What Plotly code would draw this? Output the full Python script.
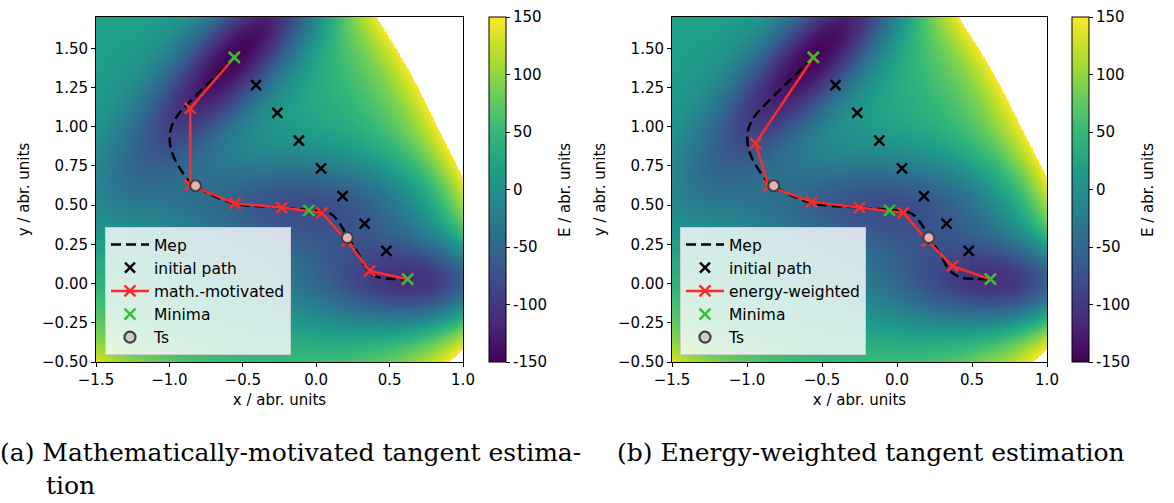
import numpy as np
import plotly.graph_objects as go

# Mueller-Brown potential parameters (surface shown in background)
MB_A = [-200.0, -100.0, -170.0, 15.0]
MB_a = [-1.0, -1.0, -6.5, 0.7]
MB_b = [0.0, 0.0, 11.0, 0.6]
MB_c = [-10.0, -10.0, -6.5, 0.7]
MB_x0 = [1.0, 0.0, -0.5, -1.0]
MB_y0 = [0.0, 0.5, 1.5, 1.0]
E_MIN, E_MAX = -150, 150

# Minimum energy path
mep_x = [-0.558, -0.655, -0.77, -0.871, -0.935, -0.986, -0.998, -0.98, -0.935, -0.871,
         -0.822, -0.731, -0.553, -0.247, -0.044, 0.096, 0.16, 0.216, 0.287, 0.35,
         0.414, 0.516, 0.623]
mep_y = [1.442, 1.351, 1.245, 1.149, 1.085, 1.0, 0.915, 0.83, 0.745, 0.66,
         0.624, 0.574, 0.51, 0.485, 0.468, 0.447, 0.383, 0.294, 0.19, 0.085,
         0.043, 0.03, 0.028]

# initial path (interior images)
init_x = [-0.410, -0.265, -0.118, 0.033, 0.180, 0.330, 0.478]
init_y = [1.266, 1.089, 0.911, 0.734, 0.557, 0.383, 0.209]

# math.-motivated tangent result
math_x = [-0.558, -0.858, -0.858, -0.553, -0.235, 0.038, 0.211, 0.364, 0.623]
math_y = [1.442, 1.117, 0.628, 0.511, 0.485, 0.451, 0.272, 0.081, 0.028]

# energy-weighted tangent result
ew_x = [-0.558, -0.943, -0.855, -0.570, -0.250, 0.042, 0.204, 0.370, 0.623]
ew_y = [1.442, 0.894, 0.621, 0.521, 0.485, 0.451, 0.272, 0.111, 0.028]

min_x = [-0.558, -0.050, 0.623]
min_y = [1.442, 0.467, 0.028]
ts_x = [-0.822, 0.212]
ts_y = [0.624, 0.293]

cb_ticks = [150, 100, 50, 0, -50, -100, -150]
x_ticks = [-1.5, -1.0, -0.5, 0.0, 0.5, 1.0]
y_ticks = [-0.5, -0.25, 0.0, 0.25, 0.5, 0.75, 1.0, 1.25, 1.5]

captions = ["(a) Mathematically-motivated tangent estima-", "tion",
            "(b) Energy-weighted tangent estimation"]

# ---- surface grid
gx = np.linspace(-1.5, 1.0, 501)
gy = np.linspace(-0.5, 1.7, 441)
X, Y = np.meshgrid(gx, gy)
Z = np.zeros_like(X)
for A, a, b, c, x0, y0 in zip(MB_A, MB_a, MB_b, MB_c, MB_x0, MB_y0):
    Z += A * np.exp(a * (X - x0) ** 2 + b * (X - x0) * (Y - y0) + c * (Y - y0) ** 2)
Z = np.where(Z > E_MAX, np.nan, Z)

W, H = 1174, 503
def px(v): return v / W
def py(v): return 1 - v / H

fig = go.Figure()

panels = [
    dict(xa="x", ya="y", leg="legend", px_=math_x, py_=math_y, name="math.-motivated",
         cbx=489),
    dict(xa="x2", ya="y2", leg="legend2", px_=ew_x, py_=ew_y, name="energy-weighted",
         cbx=1072),
]

red = "#ff2a2a"
green = "#33c033"
for p in panels:
    fig.add_trace(go.Heatmap(
        x=gx, y=gy, z=Z, xaxis=p["xa"], yaxis=p["ya"], colorscale="Viridis",
        zmin=E_MIN, zmax=E_MAX, zsmooth=False, hoverinfo="skip", showlegend=False,
        colorbar=dict(x=px(p["cbx"]), xanchor="left", y=py(17), yanchor="top",
                      len=(362 - 17) / H, lenmode="fraction", thickness=17,
                      thicknessmode="pixels", xpad=0, ypad=0, outlinewidth=1,
                      outlinecolor="black", tickvals=cb_ticks,
                      ticktext=[str(t) for t in cb_ticks], ticks="outside",
                      ticklen=4, tickcolor="black",
                      tickfont=dict(family="DejaVu Sans", size=15, color="black")),
    ))
    fig.add_trace(go.Scatter(x=mep_x, y=mep_y, mode="lines", name="Mep",
                             line=dict(color="black", width=2.5, dash="10px,5px", shape="spline"),
                             xaxis=p["xa"], yaxis=p["ya"], legend=p["leg"]))
    fig.add_trace(go.Scatter(x=init_x, y=init_y, mode="markers", name="initial path",
                             marker=dict(symbol="x-thin", size=10, color="black",
                                         line=dict(width=2.5, color="black")),
                             xaxis=p["xa"], yaxis=p["ya"], legend=p["leg"]))
    fig.add_trace(go.Scatter(x=p["px_"], y=p["py_"], mode="lines+markers", name=p["name"],
                             line=dict(color=red, width=2.5),
                             marker=dict(symbol="x-thin", size=11, color=red,
                                         line=dict(width=2.5, color=red)),
                             xaxis=p["xa"], yaxis=p["ya"], legend=p["leg"]))
    fig.add_trace(go.Scatter(x=min_x, y=min_y, mode="markers", name="Minima",
                             marker=dict(symbol="x-thin", size=11, color=green,
                                         line=dict(width=2.5, color=green)),
                             xaxis=p["xa"], yaxis=p["ya"], legend=p["leg"]))
    fig.add_trace(go.Scatter(x=ts_x, y=ts_y, mode="markers", name="Ts", showlegend=False,
                             marker=dict(symbol="circle", size=11,
                                         color="rgb(228,178,178)",
                                         line=dict(width=2.2, color="#404040")),
                             xaxis=p["xa"], yaxis=p["ya"], legend=p["leg"]))
    # legend entry for Ts (no data drawn)
    fig.add_trace(go.Scatter(x=[None], y=[None], mode="markers", name="Ts",
                             marker=dict(symbol="circle", size=11,
                                         color="rgb(205,205,205)",
                                         line=dict(width=2.2, color="#404040")),
                             xaxis=p["xa"], yaxis=p["ya"], legend=p["leg"]))

axfont = dict(family="DejaVu Sans", size=15, color="black")
common = dict(showline=True, linecolor="black", linewidth=1, mirror=True,
              ticks="outside", ticklen=4, tickcolor="black", showgrid=False,
              zeroline=False, tickfont=axfont, automargin=False)

legfont = dict(family="DejaVu Sans", size=15.5, color="black")
fig.update_layout(
    width=W, height=H, margin=dict(l=0, r=0, t=0, b=0, autoexpand=False),
    paper_bgcolor="white", plot_bgcolor="white",
    font=dict(family="DejaVu Sans", color="black"),
    xaxis=dict(domain=[px(96), px(463)], range=[-1.5, 1.0], tickvals=x_ticks,
               tickformat=".1f", title=dict(text="x / abr. units", font=axfont, standoff=6),
               anchor="y", **common),
    yaxis=dict(domain=[py(362), py(17)], range=[-0.5, 1.7], tickvals=y_ticks,
               tickformat=".2f", title=dict(text="y / abr. units", font=axfont, standoff=8),
               anchor="x", **common),
    xaxis2=dict(domain=[px(672), px(1047)], range=[-1.5, 1.0], tickvals=x_ticks,
                tickformat=".1f", title=dict(text="x / abr. units", font=axfont, standoff=6),
                anchor="y2", **common),
    yaxis2=dict(domain=[py(362), py(17)], range=[-0.5, 1.7], tickvals=y_ticks,
                tickformat=".2f", title=dict(text="y / abr. units", font=axfont, standoff=8),
                anchor="x2", **common),
    legend=dict(x=px(105), xanchor="left", y=py(355), yanchor="bottom",
                bgcolor="rgba(255,255,255,0.8)", bordercolor="#cccccc", borderwidth=1,
                font=legfont, tracegroupgap=0, itemwidth=38),
    legend2=dict(x=px(680), xanchor="left", y=py(355), yanchor="bottom",
                 bgcolor="rgba(255,255,255,0.8)", bordercolor="#cccccc", borderwidth=1,
                 font=legfont, tracegroupgap=0, itemwidth=38),
)

# colorbar titles
for cbx in (489, 1072):
    fig.add_annotation(text="E / abr. units", xref="paper", yref="paper",
                       x=px(cbx + 76), y=py(190), textangle=-90, showarrow=False,
                       font=axfont, xanchor="center", yanchor="middle")

capfont = dict(family="DejaVu Serif", size=25, color="black")
fig.add_annotation(text=captions[0], xref="paper", yref="paper", x=px(-2), y=py(452),
                   xanchor="left", yanchor="middle", showarrow=False, font=capfont)
fig.add_annotation(text=captions[1], xref="paper", yref="paper", x=px(44), y=py(485),
                   xanchor="left", yanchor="middle", showarrow=False, font=capfont)
fig.add_annotation(text=captions[2], xref="paper", yref="paper", x=px(615), y=py(452),
                   xanchor="left", yanchor="middle", showarrow=False, font=capfont)

fig.write_html("out.html")
